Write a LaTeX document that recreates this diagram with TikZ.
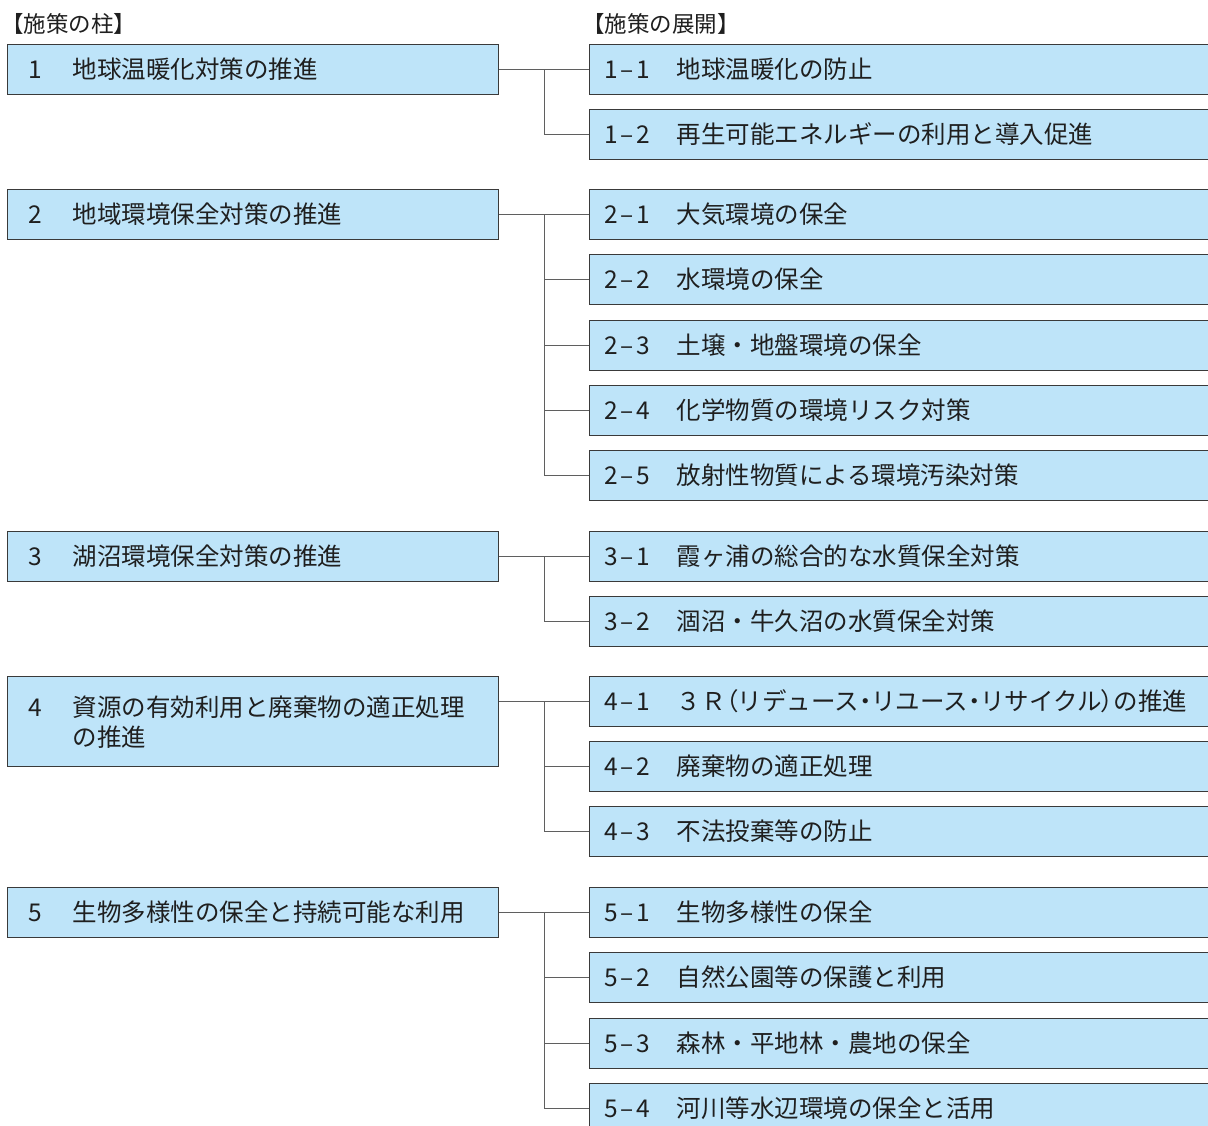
\documentclass[tikz,border=0pt]{standalone}
\usepackage{fontspec}
\setmainfont{Noto Sans CJK JP}
\usetikzlibrary{calc}
\definecolor{boxfill}{RGB}{190,228,249}
\definecolor{boxline}{RGB}{58,58,58}
\definecolor{conline}{RGB}{95,95,95}
\newcommand\pnum[1]{\makebox[44pt][l]{#1}}
\newcommand\cnum[2]{\makebox[72pt][l]{#1\kern2.5pt–\kern2.5pt#2}}
\newcommand\pl[1]{{\addfontfeature{RawFeature=+palt}#1}}
\begin{document}
\begin{tikzpicture}[x=1pt,y=-1pt,
  every node/.style={font=\fontsize{24.5}{30}\selectfont, text=black!88},
  leftbox/.style={draw=boxline, fill=boxfill, line width=1.2pt, anchor=north west,
    inner xsep=21pt, inner ysep=0pt, text width=449pt, align=left, minimum height=50pt},
  rightbox/.style={draw=boxline, fill=boxfill, line width=1.2pt, anchor=north west,
    inner xsep=15pt, inner ysep=0pt, text width=610pt, align=left, minimum height=50pt},
  conn/.style={draw=conline, line width=1.2pt},
  head/.style={font=\fontsize{22.5}{26}\selectfont, anchor=west, inner sep=0pt}]
\useasboundingbox (0,0) rectangle (1208,1126);
\clip (0,0) rectangle (1208,1126);

\node[head] (h1) at (1,24) {【施策の柱】};
\node[head] (h2) at (582,24) {【施策の展開】};

% pillars
\node[leftbox] (p1) at (7,44) {\pnum{1}地球温暖化対策の推進};
\node[leftbox] (p2) at (7,189) {\pnum{2}地域環境保全対策の推進};
\node[leftbox] (p3) at (7,531) {\pnum{3}湖沼環境保全対策の推進};
\node[leftbox, minimum height=90pt] (p4) at (7,676) {\raisebox{-4pt}[\height][\depth]{\begin{tabular}{@{}p{44pt}@{}l@{}}4&資源の有効利用と廃棄物の適正処理\\ &の推進\end{tabular}}};
\node[leftbox] (p5) at (7,887) {\pnum{5}生物多様性の保全と持続可能な利用};

% measures
\node[rightbox] (c11) at (589,44) {\cnum{1}{1}地球温暖化の防止};
\node[rightbox] (c12) at (589,109) {\cnum{1}{2}再生可能エネルギーの利用と導入促進};
\node[rightbox] (c21) at (589,189) {\cnum{2}{1}大気環境の保全};
\node[rightbox] (c22) at (589,254) {\cnum{2}{2}水環境の保全};
\node[rightbox] (c23) at (589,320) {\cnum{2}{3}土壌・地盤環境の保全};
\node[rightbox] (c24) at (589,385) {\cnum{2}{4}化学物質の環境リスク対策};
\node[rightbox] (c25) at (589,450) {\cnum{2}{5}放射性物質による環境汚染対策};
\node[rightbox] (c31) at (589,531) {\cnum{3}{1}霞ヶ浦の総合的な水質保全対策};
\node[rightbox] (c32) at (589,596) {\cnum{3}{2}涸沼・牛久沼の水質保全対策};
\node[rightbox] (c41) at (589,676) {\cnum{4}{1}３Ｒ\pl{（}リデュース\pl{・}リユース\pl{・}リサイクル\pl{）}の推進};
\node[rightbox] (c42) at (589,741) {\cnum{4}{2}廃棄物の適正処理};
\node[rightbox] (c43) at (589,806) {\cnum{4}{3}不法投棄等の防止};
\node[rightbox] (c51) at (589,887) {\cnum{5}{1}生物多様性の保全};
\node[rightbox] (c52) at (589,952) {\cnum{5}{2}自然公園等の保護と利用};
\node[rightbox] (c53) at (589,1018) {\cnum{5}{3}森林・平地林・農地の保全};
\node[rightbox] (c54) at (589,1083) {\cnum{5}{4}河川等水辺環境の保全と活用};

% connectors
\coordinate (j1) at ($(p1.east)!0.5!(c11.west)$);
\draw[conn] (p1.east) -- (c11.west);
\draw[conn] (j1) |- (c12.west);

\coordinate (j2) at ($(p2.east)!0.5!(c21.west)$);
\draw[conn] (p2.east) -- (c21.west);
\foreach \c in {c22,c23,c24,c25} \draw[conn] (j2) |- (\c.west);

\coordinate (j3) at ($(p3.east)!0.5!(c31.west)$);
\draw[conn] (p3.east) -- (c31.west);
\draw[conn] (j3) |- (c32.west);

\coordinate (s4) at (p4.north east |- c41.west);
\coordinate (j4) at ($(s4)!0.5!(c41.west)$);
\draw[conn] (s4) -- (c41.west);
\foreach \c in {c42,c43} \draw[conn] (j4) |- (\c.west);

\coordinate (j5) at ($(p5.east)!0.5!(c51.west)$);
\draw[conn] (p5.east) -- (c51.west);
\foreach \c in {c52,c53,c54} \draw[conn] (j5) |- (\c.west);
\end{tikzpicture}
\end{document}
